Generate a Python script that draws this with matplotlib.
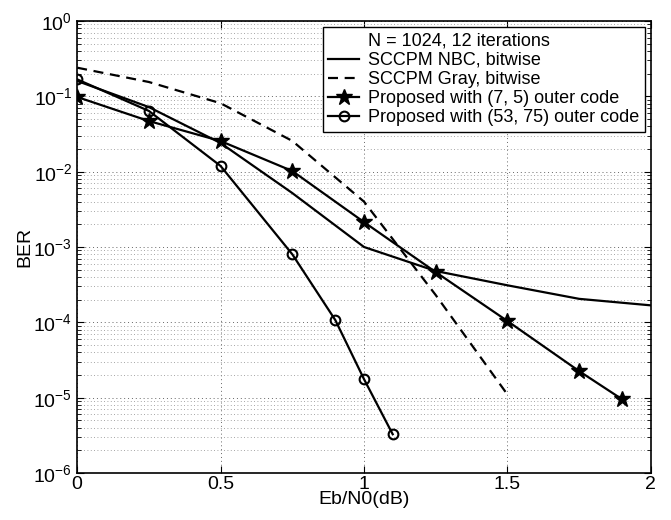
import numpy as np
import matplotlib.pyplot as plt
from matplotlib.lines import Line2D
from matplotlib.ticker import LogLocator, NullFormatter, FixedLocator, LogFormatterSciNotation

plt.rcParams['font.family'] = ['Liberation Sans', 'DejaVu Sans']
plt.rcParams['mathtext.fontset'] = 'custom'
plt.rcParams['mathtext.rm'] = 'Liberation Sans'

# SCCPM NBC, bitwise
x_nbc = [0, 0.25, 0.5, 0.75, 1.0, 1.25, 1.5, 1.75, 2.0]
ber_nbc = [0.16, 0.072, 0.024, 5.2e-3, 1.0e-3, 4.8e-4, 3.1e-4, 2.05e-4, 1.68e-4]

# SCCPM Gray, bitwise
x_gray = [0, 0.25, 0.5, 0.75, 1.0, 1.25, 1.5]
ber_gray = [0.24, 0.155, 0.081, 0.0256, 4.0e-3, 2.3e-4, 1.1e-5]

# Proposed (7, 5)
x_75 = [0, 0.25, 0.5, 0.75, 1.0, 1.25, 1.5, 1.75, 1.9]
ber_75 = [0.098, 0.047, 0.0255, 0.0102, 2.14e-3, 4.64e-4, 1.04e-4, 2.25e-5, 9.5e-6]

# Proposed (53, 75)
x_5375 = [0, 0.25, 0.5, 0.75, 0.9, 1.0, 1.1]
ber_5375 = [0.168, 0.064, 0.0119, 8.0e-4, 1.07e-4, 1.76e-5, 3.27e-6]

x_ticks = [0, 0.5, 1, 1.5, 2]
x_ticklabels = ['0', '0.5', '1', '1.5', '2']
y_ticks = [1e-6, 1e-5, 1e-4, 1e-3, 1e-2, 1e-1, 1e0]

fig = plt.figure(figsize=(6.71, 5.20), dpi=100)
ax = fig.add_axes([0.115, 0.0904, 0.855, 0.8692])

lw = 1.6
ax.plot(x_nbc, ber_nbc, color='black', lw=lw, label='SCCPM NBC, bitwise')
ax.plot(x_gray, ber_gray, color='black', lw=lw, linestyle=(0, (4.5, 3)),
        label='SCCPM Gray, bitwise')
ax.plot(x_75, ber_75, color='black', lw=lw, marker='*', markersize=12,
        label='Proposed with (7, 5) outer code')
ax.plot(x_5375, ber_5375, color='black', lw=lw, marker='o', markersize=7,
        markerfacecolor='none', markeredgewidth=1.5,
        label='Proposed with (53, 75) outer code')

ax.set_yscale('log')
ax.set_xlim(0, 2)
ax.set_ylim(1e-6, 1)
ax.xaxis.set_major_locator(FixedLocator(x_ticks))
ax.set_xticklabels(x_ticklabels)
ax.yaxis.set_major_locator(FixedLocator(y_ticks))
ax.yaxis.set_major_formatter(LogFormatterSciNotation())
minor = [m * 10.0 ** e for e in range(-6, 0) for m in range(2, 10)]
ax.yaxis.set_minor_locator(FixedLocator(minor))
ax.yaxis.set_minor_formatter(NullFormatter())

ax.grid(True, which='major', linestyle=(0, (1, 3)), color='#666666', lw=0.7)
ax.grid(True, which='minor', axis='y', linestyle=(0, (1, 3)), color='#888888', lw=0.6)
ax.tick_params(which='both', direction='in', top=True, right=True, labelsize=14)
ax.tick_params(axis='x', pad=2)
ax.tick_params(which='major', length=5)
ax.tick_params(which='minor', length=3)
for s in ax.spines.values():
    s.set_linewidth(1.2)

ax.set_xlabel('Eb/N0(dB)', fontsize=14, labelpad=-1)
ax.set_ylabel('BER', fontsize=14, labelpad=0)

handles, labels = ax.get_legend_handles_labels()
title_handle = Line2D([], [], linestyle='none')
leg = ax.legend([title_handle] + handles, ['N = 1024, 12 iterations'] + labels,
                loc='upper right', fontsize=13, frameon=True, fancybox=False,
                edgecolor='black', framealpha=1, borderpad=0.3, labelspacing=0.12,
                handlelength=1.7, handletextpad=0.5, borderaxespad=0.35)
leg.get_frame().set_linewidth(1.0)

fig.savefig('out.png', dpi=100)
